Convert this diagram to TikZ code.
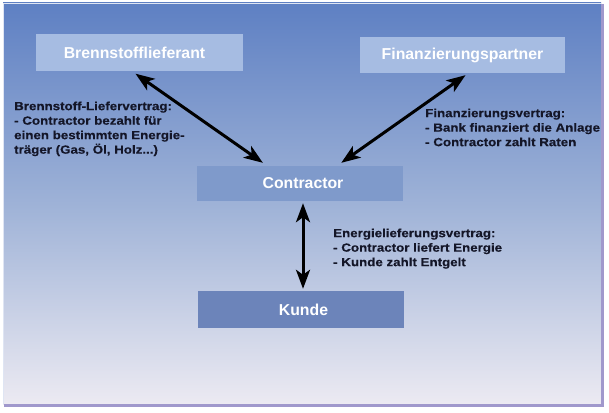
\documentclass[tikz,border=0pt]{standalone}
\usepackage{fontspec}
\setmainfont{Liberation Sans}
\newfontfamily\widesans[FakeStretch=1.13,BoldFeatures={FakeBold=0.4}]{Liberation Sans}
\usetikzlibrary{arrows.meta,calc}
\definecolor{bgtop}{RGB}{94,128,195}
\definecolor{bgmid}{RGB}{158,178,215}
\definecolor{bgbot}{RGB}{236,234,242}
\definecolor{lightbox}{RGB}{166,188,226}
\definecolor{midbox}{RGB}{127,154,203}
\definecolor{darkbox}{RGB}{108,132,186}
\definecolor{frameP}{RGB}{160,152,204}
\definecolor{lbltext}{RGB}{20,22,40}
\tikzset{
  boxstyle/.style={rectangle, inner sep=0pt, text=white, font=\fontsize{15.8}{18}\selectfont\bfseries},
  lbl/.style={anchor=north west, inner sep=0pt, align=left, font=\widesans\fontsize{11.8}{14.5}\selectfont\bfseries, text=lbltext},
  dblarrow/.style={line width=3pt, {Stealth[length=19pt,width=14pt,inset=5pt]}-{Stealth[length=19pt,width=14pt,inset=5pt]}}
}
\begin{document}
\begin{tikzpicture}[x=1pt,y=-1pt]
\useasboundingbox (0,0) rectangle (609,412);
\fill[white] (0,0) rectangle (609,412);
\shade[top color=bgtop, bottom color=bgbot, middle color=bgmid] (3,3) rectangle (601,404);
\draw[white!80!bgtop, line width=1.5pt] (3.5,404) -- (3.5,3.5) -- (601,3.5);
\draw[frameP, line width=3pt] (602,4) -- (602,405.5) -- (4,405.5);

\node[boxstyle, fill=lightbox, minimum width=207pt, minimum height=36pt] (b) at (139.5,52.5) {\hspace*{-10pt}Brennstofflieferant};
\node[boxstyle, fill=lightbox, minimum width=205pt, minimum height=36pt] (f) at (462.5,55) {Finanzierungspartner};
\node[boxstyle, fill=midbox, minimum width=206pt, minimum height=35pt] (c) at (300,183.5) {\hspace*{6pt}Contractor};
\node[boxstyle, fill=darkbox, minimum width=206pt, minimum height=37pt] (k) at (301,309.5) {\hspace*{5pt}Kunde};

\node[lbl] (lb) at (14,101.4) {Brennstoff-Liefervertrag:\\- Contractor bezahlt für\\einen bestimmten Energie-\\träger (Gas, Öl, Holz...)};
\node[lbl] (lf) at (425,108.4) {Finanzierungsvertrag:\\- Bank finanziert die Anlage\\- Contractor zahlt Raten};
\node[lbl] (lk) at (333,228.4) {Energielieferungsvertrag:\\- Contractor liefert Energie\\- Kunde zahlt Entgelt};

\draw[dblarrow] ($(b.south)+(-4,3)$) -- ($(c.north west)!0.32!(c.north east)+(0,-3)$);
\draw[dblarrow] ($(f.south)+(3,2)$) -- ($(c.north west)!0.70!(c.north east)+(0,-3)$);
\draw[dblarrow] ($(c.south)+(3,2)$) -- ($(k.north)+(2,-2)$);
\end{tikzpicture}
\end{document}
